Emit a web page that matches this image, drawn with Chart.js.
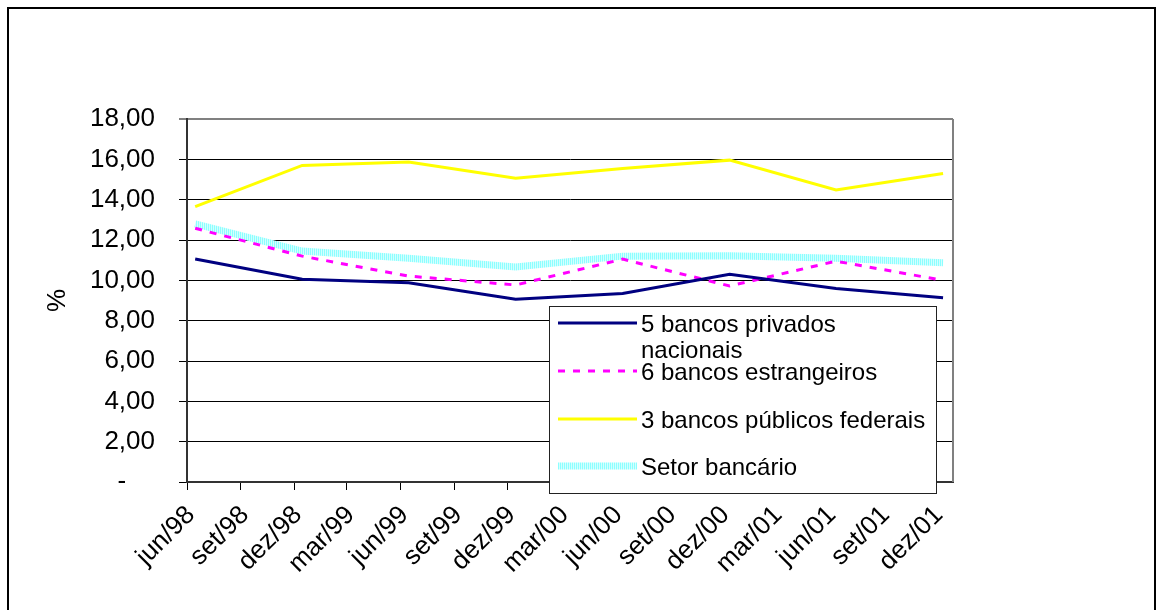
<!DOCTYPE html>
<html>
<head>
  <title>Bancos - %</title>
  <meta charset="UTF-8">
  <script src="https://cdn.jsdelivr.net/npm/chart.js"></script>
  <style>
    body {
      margin: 0;
      background: #fff;
      font-family: "Liberation Sans", Arial, sans-serif;
    }
    .frame {
      position: absolute;
      left: 7px;
      top: 7px;
      width: 1145px;
      height: 700px;
      border: 2px solid #000;
    }
    #chart {
      position: absolute;
      left: 0;
      top: 0;
    }
  </style>
</head>
<body>
  <div class="frame"></div>
  <canvas id="chart" width="1156" height="610"></canvas>

  <script>
    // series (semiannual observations, %)
    const seriesNames = ['5 bancos privados nacionais', '6 bancos estrangeiros', '3 bancos públicos federais', 'Setor bancário'];
    const pointDates = ['1998-06-15', '1998-12-15', '1999-06-15', '1999-12-15', '2000-06-15', '2000-12-15', '2001-06-15', '2001-12-15'];
    const privados = [11.06, 10.05, 9.88, 9.06, 9.35, 10.30, 9.60, 9.14];
    const estrangeiros = [12.58, 11.20, 10.21, 9.77, 11.05, 9.72, 10.95, 10.00];
    const publicos = [13.65, 15.70, 15.87, 15.06, 15.55, 15.96, 14.48, 15.30];
    const setor = [12.80, 11.45, 11.09, 10.66, 11.20, 11.22, 11.10, 10.87];

    // x axis (quarterly ticks)
    const tickDates = ['1998-06-01', '1998-09-01', '1998-12-01', '1999-03-01', '1999-06-01', '1999-09-01', '1999-12-01', '2000-03-01',
                       '2000-06-01', '2000-09-01', '2000-12-01', '2001-03-01', '2001-06-01', '2001-09-01', '2001-12-01'];
    const tickLabels = ['jun/98', 'set/98', 'dez/98', 'mar/99', 'jun/99', 'set/99', 'dez/99', 'mar/00',
                        'jun/00', 'set/00', 'dez/00', 'mar/01', 'jun/01', 'set/01', 'dez/01'];
    const axisStart = '1998-06-01';
    const axisEnd = '2002-01-01';

    // y axis
    const yMin = 0, yMax = 18, yStep = 2;

    const dayOf = (s) => {
      const [y, m, d] = s.split('-').map(Number);
      return (Date.UTC(y, m - 1, d) - Date.UTC(1998, 5, 1)) / 86400000;
    };
    const toPoints = (vals) => vals.map((v, i) => ({ x: dayOf(pointDates[i]), y: v }));
    const tickDays = tickDates.map(dayOf);

    // striped light cyan like the original's pattern line
    const pat = document.createElement('canvas');
    pat.width = 2; pat.height = 1;
    const pctx = pat.getContext('2d');
    pctx.fillStyle = '#8cffff'; pctx.fillRect(0, 0, 1, 1);
    pctx.fillStyle = '#d4ffff'; pctx.fillRect(1, 0, 1, 1);
    const cyanPattern = pctx.createPattern(pat, 'repeat');

    const FONT = '"Liberation Sans", Arial, sans-serif';

    // legend drawn as a box on top of the plot, like the original
    const boxLegend = {
      id: 'boxLegend',
      beforeDatasetsDraw(chart) {
        const { ctx, chartArea } = chart;
        ctx.save();
        ctx.strokeStyle = '#808080';
        ctx.lineWidth = 2;
        ctx.beginPath();
        ctx.moveTo(chartArea.right, chartArea.top);
        ctx.lineTo(chartArea.right, chartArea.bottom);
        ctx.stroke();
        ctx.restore();
      },
      afterDraw(chart) {
        const ctx = chart.ctx;
        const box = { x: 549, y: 306, w: 387, h: 187 };
        const rows = [323, 371, 419, 466];
        ctx.save();
        ctx.fillStyle = '#fff';
        ctx.fillRect(box.x, box.y, box.w, box.h);
        ctx.strokeStyle = '#222';
        ctx.lineWidth = 1;
        ctx.strokeRect(box.x + 0.5, box.y + 0.5, box.w, box.h);
        ctx.font = '24px ' + FONT;
        ctx.textBaseline = 'middle';
        ctx.fillStyle = '#000';
        chart.data.datasets.forEach((ds, i) => {
          const y = rows[i];
          ctx.save();
          ctx.strokeStyle = ds.borderColor;
          ctx.lineWidth = ds.borderWidth;
          ctx.setLineDash(ds.borderDash || []);
          ctx.beginPath();
          ctx.moveTo(558, y);
          ctx.lineTo(637, y);
          ctx.stroke();
          ctx.restore();
          // simple word wrap
          const words = ds.label.split(' ');
          const lines = [];
          let cur = '';
          words.forEach(w => {
            const t = cur ? cur + ' ' + w : w;
            if (ctx.measureText(t).width > 292 && cur) { lines.push(cur); cur = w; } else { cur = t; }
          });
          lines.push(cur);
          lines.forEach((l, k) => ctx.fillText(l, 641, y + 2 + k * 26));
        });
        ctx.restore();
      }
    };

    new Chart(document.getElementById('chart'), {
      type: 'line',
      data: {
        datasets: [
          { label: seriesNames[0], data: toPoints(privados), borderColor: '#000080', borderWidth: 3 },
          { label: seriesNames[1], data: toPoints(estrangeiros), borderColor: '#ff00ff', borderWidth: 3, borderDash: [7, 8] },
          { label: seriesNames[2], data: toPoints(publicos), borderColor: '#ffff00', borderWidth: 3 },
          { label: seriesNames[3], data: toPoints(setor), borderColor: cyanPattern, borderWidth: 7 }
        ]
      },
      options: {
        responsive: false,
        animation: false,
        layout: { padding: { top: 119, right: 203, left: 0, bottom: 0 } },
        elements: { point: { radius: 0 }, line: { tension: 0, borderCapStyle: 'butt' } },
        plugins: { legend: { display: false }, tooltip: { enabled: false } },
        scales: {
          x: {
            type: 'linear',
            min: dayOf(axisStart),
            max: dayOf(axisEnd),
            afterBuildTicks: (scale) => { scale.ticks = tickDays.map(v => ({ value: v })); },
            afterFit: (scale) => { scale.height = 128; },
            grid: { drawOnChartArea: false, drawTicks: true, tickLength: 8, color: '#000', tickWidth: 1 },
            border: { color: '#333', width: 2 },
            ticks: {
              autoSkip: false,
              maxRotation: 45,
              minRotation: 45,
              padding: 10,
              labelOffset: 4,
              color: '#000',
              font: { family: FONT, size: 26 },
              callback: (v) => tickLabels[tickDays.indexOf(v)]
            }
          },
          y: {
            min: yMin,
            max: yMax,
            afterFit: (scale) => { scale.width = 187; },
            grid: {
              color: (c) => c.tick && c.tick.value === yMax ? '#808080' : '#000',
              lineWidth: (c) => c.tick && c.tick.value === yMax ? 2 : 1,
              tickColor: '#000',
              tickWidth: 1,
              tickLength: 8
            },
            border: { color: '#333', width: 2 },
            ticks: {
              stepSize: yStep,
              padding: 24,
              color: '#000',
              font: { family: FONT, size: 26 },
              callback: (v) => v === 0 ? '-    ' : v.toFixed(2).replace('.', ',')
            },
            title: {
              display: true,
              text: '%',
              color: '#000',
              font: { family: FONT, size: 26 },
              padding: { top: 42, bottom: 0 }
            }
          }
        }
      },
      plugins: [boxLegend]
    });
  </script>
</body>
</html>
